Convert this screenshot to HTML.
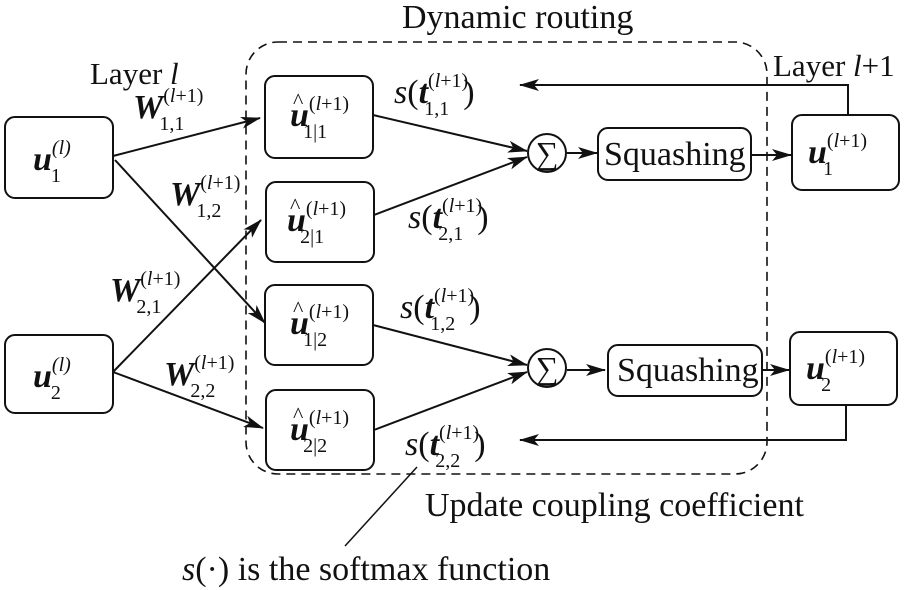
<!DOCTYPE html>
<html><head><meta charset="utf-8"><style>
html,body{margin:0;padding:0;background:#fff;}
svg{display:block;font-family:"Liberation Serif",serif;}
.b{font-weight:bold;font-style:italic;}
</style></head><body>
<svg width="905" height="590" viewBox="0 0 905 590" xmlns="http://www.w3.org/2000/svg">
<defs>
<marker id="a" markerWidth="20" markerHeight="12" refX="19" refY="6" orient="auto" markerUnits="userSpaceOnUse">
<path d="M0,0 L20,6 L0,12 L5,6 Z" fill="#111"/></marker>
</defs>
<g fill="none" stroke="#111" stroke-width="2">
<rect x="246" y="42" width="521" height="432" rx="32" stroke-dasharray="9,6" stroke-width="1.6"/>
<rect x="5" y="117" width="108" height="81" rx="10"/>
<rect x="5" y="335" width="108" height="78" rx="10"/>
<rect x="265" y="76" width="108" height="82" rx="10"/>
<rect x="266" y="182" width="108" height="80" rx="10"/>
<rect x="265" y="285" width="108" height="80" rx="10"/>
<rect x="266" y="390" width="108" height="80" rx="10"/>
<circle cx="547" cy="153" r="19"/>
<circle cx="547" cy="368" r="19"/>
<rect x="598" y="128" width="153" height="52" rx="10"/>
<rect x="608" y="345" width="154" height="51" rx="10"/>
<rect x="792" y="115" width="107" height="75" rx="10"/>
<rect x="790" y="332" width="107" height="73" rx="10"/>
<g marker-end="url(#a)">
<line x1="113" y1="156" x2="260" y2="118"/>
<line x1="115" y1="160" x2="265" y2="323"/>
<line x1="113" y1="372" x2="261" y2="220"/>
<line x1="113" y1="372" x2="263" y2="428"/>
<line x1="373" y1="115" x2="527" y2="151"/>
<line x1="374" y1="215" x2="527" y2="157"/>
<line x1="373" y1="325" x2="527" y2="365"/>
<line x1="374" y1="430" x2="527" y2="372"/>
<line x1="567" y1="153" x2="597" y2="153"/>
<line x1="567" y1="370" x2="605" y2="370"/>
<line x1="751" y1="155" x2="791" y2="155"/>
<line x1="762" y1="370" x2="789" y2="370"/>
<polyline points="848,115 848,85 520,85"/>
<polyline points="846,405 846,440 520,440"/>
</g>
<line x1="417" y1="467" x2="345" y2="546" stroke-width="1.5"/>
</g>
<g fill="#111" font-size="34">
<text x="402" y="28">Dynamic routing</text>
<text x="90" y="84" font-size="31">Layer <tspan font-style="italic">l</tspan></text>
<text x="773" y="76" font-size="31">Layer <tspan font-style="italic">l</tspan>+1</text>
<text x="425" y="516">Update coupling coefficient</text>
<text x="182" y="580"><tspan font-style="italic">s</tspan>(·) is the softmax function</text>
<text x="604" y="165">Squashing</text>
<text x="617" y="381">Squashing</text>
<text x="547" y="164" font-size="32" text-anchor="middle">∑</text>
<text x="547" y="379" font-size="32" text-anchor="middle">∑</text>
</g>
<g fill="#111" font-size="34">
<text x="33" y="170"><tspan class="b">u</tspan><tspan font-size="20" dy="-16" font-style="italic">(l)</tspan><tspan font-size="20" dx="-20" dy="28">1</tspan></text>
<text x="33" y="387"><tspan class="b">u</tspan><tspan font-size="20" dy="-16" font-style="italic">(l)</tspan><tspan font-size="20" dx="-20" dy="28">2</tspan></text>
<text x="808" y="163"><tspan class="b">u</tspan><tspan font-size="20" dy="-16">(<tspan font-style="italic">l</tspan>+1)</tspan><tspan font-size="20" dx="-44" dy="28">1</tspan></text>
<text x="806" y="379"><tspan class="b">u</tspan><tspan font-size="20" dy="-16">(<tspan font-style="italic">l</tspan>+1)</tspan><tspan font-size="20" dx="-44" dy="28">2</tspan></text>
<text x="290" y="126"><tspan class="b">u</tspan><tspan font-size="20" dy="-16">(<tspan font-style="italic">l</tspan>+1)</tspan><tspan font-size="20" dx="-46" dy="28">1|1</tspan></text>
<text x="287" y="231"><tspan class="b">u</tspan><tspan font-size="20" dy="-16">(<tspan font-style="italic">l</tspan>+1)</tspan><tspan font-size="20" dx="-46" dy="28">2|1</tspan></text>
<text x="290" y="334"><tspan class="b">u</tspan><tspan font-size="20" dy="-16">(<tspan font-style="italic">l</tspan>+1)</tspan><tspan font-size="20" dx="-46" dy="28">1|2</tspan></text>
<text x="290" y="440"><tspan class="b">u</tspan><tspan font-size="20" dy="-16">(<tspan font-style="italic">l</tspan>+1)</tspan><tspan font-size="20" dx="-46" dy="28">2|2</tspan></text>
<text x="293" y="108" font-size="22">^</text>
<text x="290" y="213" font-size="22">^</text>
<text x="293" y="316" font-size="22">^</text>
<text x="293" y="422" font-size="22">^</text>
<text x="133" y="118"><tspan class="b">W</tspan><tspan font-size="20" dy="-16">(<tspan font-style="italic">l</tspan>+1)</tspan><tspan font-size="20" dx="-44" dy="28">1,1</tspan></text>
<text x="170" y="205"><tspan class="b">W</tspan><tspan font-size="20" dy="-16">(<tspan font-style="italic">l</tspan>+1)</tspan><tspan font-size="20" dx="-44" dy="28">1,2</tspan></text>
<text x="110" y="301"><tspan class="b">W</tspan><tspan font-size="20" dy="-16">(<tspan font-style="italic">l</tspan>+1)</tspan><tspan font-size="20" dx="-44" dy="28">2,1</tspan></text>
<text x="164" y="385"><tspan class="b">W</tspan><tspan font-size="20" dy="-16">(<tspan font-style="italic">l</tspan>+1)</tspan><tspan font-size="20" dx="-44" dy="28">2,2</tspan></text>
<text x="394" y="103"><tspan font-style="italic">s</tspan>(<tspan class="b">t</tspan><tspan font-size="20" dy="-16">(<tspan font-style="italic">l</tspan>+1)</tspan><tspan font-size="20" dx="-44" dy="28">1,1</tspan><tspan dx="14" dy="-12">)</tspan></text>
<text x="408" y="228"><tspan font-style="italic">s</tspan>(<tspan class="b">t</tspan><tspan font-size="20" dy="-16">(<tspan font-style="italic">l</tspan>+1)</tspan><tspan font-size="20" dx="-44" dy="28">2,1</tspan><tspan dx="14" dy="-12">)</tspan></text>
<text x="400" y="318"><tspan font-style="italic">s</tspan>(<tspan class="b">t</tspan><tspan font-size="20" dy="-16">(<tspan font-style="italic">l</tspan>+1)</tspan><tspan font-size="20" dx="-44" dy="28">1,2</tspan><tspan dx="14" dy="-12">)</tspan></text>
<text x="405" y="455"><tspan font-style="italic">s</tspan>(<tspan class="b">t</tspan><tspan font-size="20" dy="-16">(<tspan font-style="italic">l</tspan>+1)</tspan><tspan font-size="20" dx="-44" dy="28">2,2</tspan><tspan dx="14" dy="-12">)</tspan></text>
</g>
</svg>
</body></html>
